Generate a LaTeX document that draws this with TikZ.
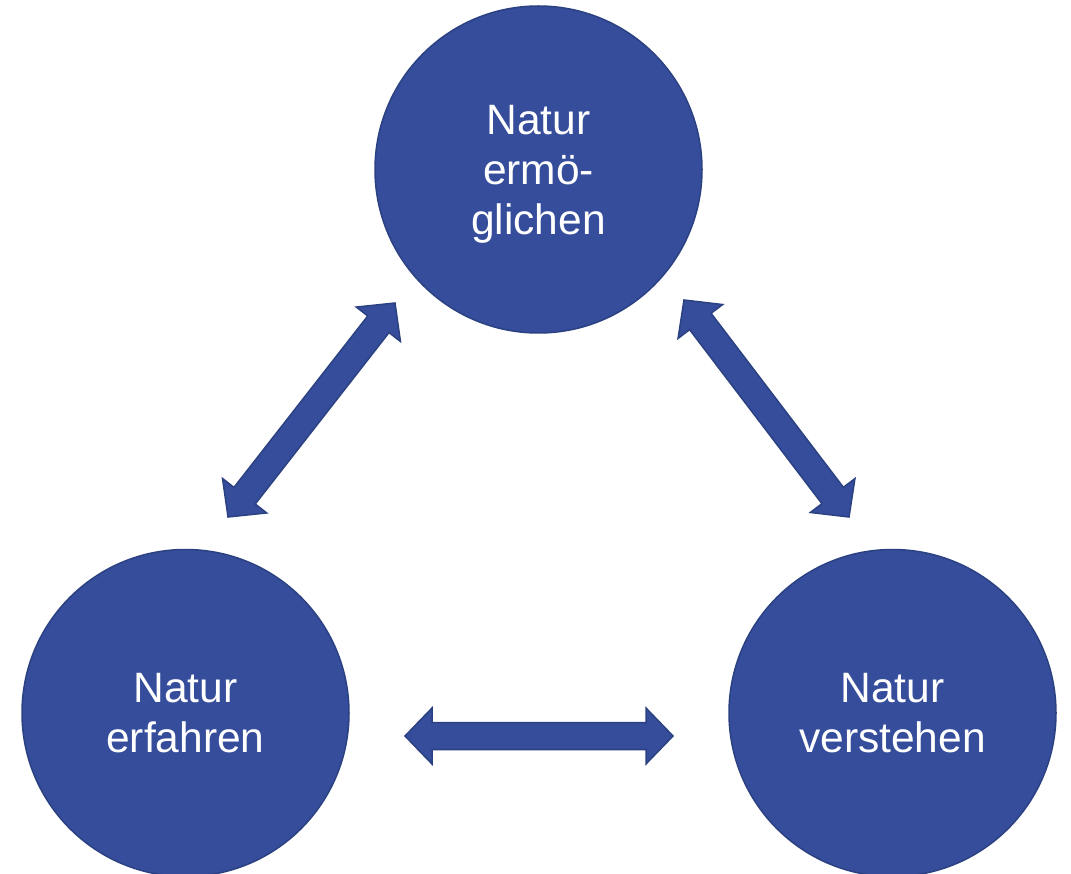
\documentclass[tikz,border=0pt]{standalone}
\usepackage{fontspec}
\setmainfont{Liberation Sans}
\usepackage{xcolor}
\usepackage{tikz}
\usetikzlibrary{calc}
\definecolor{natfill}{HTML}{354D9B}
\definecolor{natline}{HTML}{2B4182}
\tikzset{
  natur/.style={circle, draw=natline, fill=natfill, line width=1.5pt, minimum size=327pt,
    inner sep=0pt, text depth=0pt, text=white, align=center, font=\fontsize{42.5}{50}\selectfont},
  blockarrow/.style={draw=natline, fill=natfill, line width=1.5pt, line join=miter},
}
% block double arrow between two named points: head length, shaft and head half widths
\newcommand{\hl}{27pt}
\newcommand{\sw}{13.5pt}
\newcommand{\hw}{28pt}
\newcommand{\dblarrow}[2]{%
  \draw[blockarrow] (#1)
    -- ($(#1)!\hl!(#2)!\hw!90:(#2)$) -- ($(#1)!\hl!(#2)!\sw!90:(#2)$)
    -- ($(#2)!\hl!(#1)!\sw!-90:(#1)$) -- ($(#2)!\hl!(#1)!\hw!-90:(#1)$)
    -- (#2)
    -- ($(#2)!\hl!(#1)!\hw!90:(#1)$) -- ($(#2)!\hl!(#1)!\sw!90:(#1)$)
    -- ($(#1)!\hl!(#2)!\sw!-90:(#2)$) -- ($(#1)!\hl!(#2)!\hw!-90:(#2)$)
    -- cycle;}

\begin{document}
\begin{tikzpicture}[x=1pt, y=-1pt]
\useasboundingbox (0,0) rectangle (1071,874);
\node[natur] (ermoeglichen) at (538.5,169.5) {Natur\\ermö-\\glichen};
\node[natur] (erfahren) at (185.5,713) {Natur\\erfahren};
\node[natur] (verstehen) at (892.5,713) {Natur\\verstehen};
% arrow tips
\coordinate (el) at (228,517);
\coordinate (er) at (395,303);
\coordinate (vl) at (684,300);
\coordinate (vr) at (849,517);
\coordinate (fl) at (405,736);
\coordinate (fr) at (673,736);
\dblarrow{el}{er}
\dblarrow{vl}{vr}
\dblarrow{fl}{fr}
\end{tikzpicture}
\end{document}
